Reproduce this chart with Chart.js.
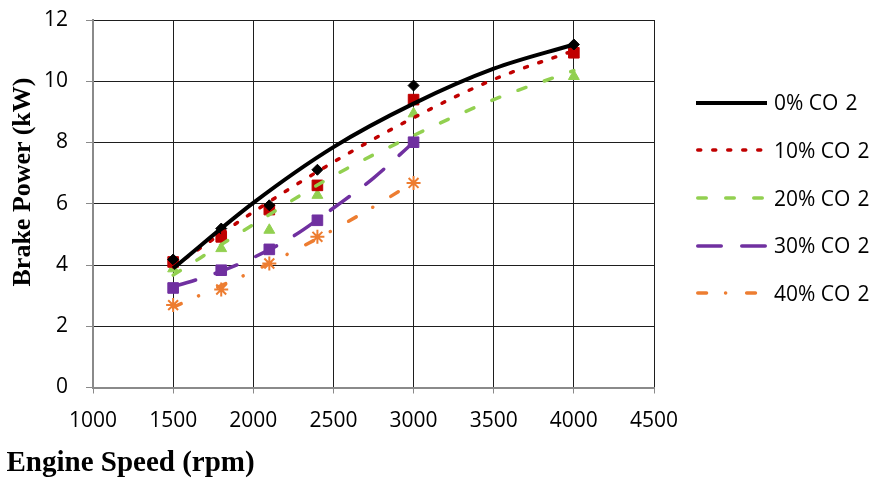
<!DOCTYPE html>
<html>
<head>
<meta charset="utf-8">
<script src="https://cdn.jsdelivr.net/npm/chart.js@4.4.1/dist/chart.umd.min.js"></script>
<style>
  html, body { margin: 0; padding: 0; background: #fff; }
  #wrap { position: relative; width: 879px; height: 479px; overflow: hidden; }
  #chart { position: absolute; left: 0; top: 0; }
  .axis-title { position: absolute; font-family: 'Liberation Serif', 'Times New Roman', serif;
    font-weight: bold; color: #000; white-space: nowrap; }
  #ytitle { font-size: 26px; line-height: 26px; width: 300px; text-align: center;
    left: -127.6px; top: 168.5px; transform: rotate(-90deg); }
  #xtitle { font-size: 29px; line-height: 29px; left: 6.5px; top: 447.4px; }
  .leg-row { position: absolute; left: 696px; height: 30px; display: flex; align-items: center;
    font-family: 'Open Sans', sans-serif; font-size: 21px; line-height: 21px; color: #000; white-space: nowrap; }
  .leg-row svg { margin-right: 7px; }
  .leg-row .sub { margin-left: 7px; }
</style>
</head>
<body>
<div id="wrap">
  <canvas id="chart" width="879" height="479"></canvas>
  <div id="ytitle" class="axis-title">Brake Power (kW)</div>
  <div id="xtitle" class="axis-title">Engine Speed (rpm)</div>
  <div id="legend"></div>
</div>
<script>
'use strict';

/* ---- data ---- */
var rpm      = [1500, 1800, 2100, 2400, 3000, 4000];
var rpmShort = [1500, 1800, 2100, 2400, 3000];

var power0  = [4.18, 5.19, 5.95, 7.11, 9.86, 11.20];
var power10 = [4.10, 4.92, 5.81, 6.60, 9.40, 10.93];
var power20 = [3.88, 4.54, 5.14, 6.28, 8.94, 10.16];
var power30 = [3.25, 3.83, 4.51, 5.46, 8.01];
var power40 = [2.69, 3.20, 4.05, 4.92, 6.68];

// trend lines, read at fixed speeds along each curve
var trendRpm      = [1500, 2000, 2500, 3000, 3500, 4000];
var trendRpmShort = [1500, 1750, 2000, 2250, 2500, 2750, 3000];

var trend0  = [3.89, 6.03, 7.85, 9.27, 10.41, 11.20];
var trend10 = [3.94, 5.73, 7.36, 8.81, 10.06, 11.00];
var trend20 = [3.67, 5.32, 6.91, 8.23, 9.40, 10.35];
var trend30 = [3.29, 3.70, 4.24, 4.94, 5.86, 6.84, 8.01];
var trend40 = [2.62, 3.21, 3.80, 4.45, 5.15, 5.90, 6.70];

var xTicks = [1000, 1500, 2000, 2500, 3000, 3500, 4000, 4500];
var yTicks = [0, 2, 4, 6, 8, 10, 12];

var seriesLabels = ['0% CO 2', '10% CO 2', '20% CO 2', '30% CO 2', '40% CO 2'];

/* ---- styles ---- */
var colors  = ['#000000', '#c00000', '#92d050', '#7030a0', '#ed7d31'];
var dashes  = [[], [3, 12], [8.5, 19.5], [23.5, 20.5], [8.8, 19, 0.1, 21]];
var widths  = [4, 3.5, 3.5, 3.5, 3.5];
var markers = [
  { style: 'rectRot',  r: 5.5, fill: true },
  { style: 'rect',     r: 7.5, fill: true },
  { style: 'triangle', r: 6.3, fill: true },
  { style: 'rect',     r: 7.5, fill: true },
  { style: 'star',     r: 7,   fill: false }
];

function pts(xs, ys) {
  return ys.map(function (y, i) { return { x: xs[i], y: y }; });
}

var pointData = [pts(rpm, power0), pts(rpm, power10), pts(rpm, power20),
                 pts(rpmShort, power30), pts(rpmShort, power40)];
var trendData = [pts(trendRpm, trend0), pts(trendRpm, trend10), pts(trendRpm, trend20),
                 pts(trendRpmShort, trend30), pts(trendRpmShort, trend40)];

var datasets = [];
pointData.forEach(function (d, i) {
  var m = markers[i];
  datasets.push({
    label: seriesLabels[i] + ' points',
    data: d,
    showLine: false,
    pointStyle: m.style,
    pointRadius: m.r,
    pointBackgroundColor: m.fill ? colors[i] : 'rgba(0,0,0,0)',
    pointBorderColor: colors[i],
    pointBorderWidth: m.fill ? 1 : 2,
    order: 2
  });
});
trendData.forEach(function (d, i) {
  datasets.push({
    label: seriesLabels[i],
    data: d,
    showLine: true,
    pointRadius: 0,
    borderColor: colors[i],
    borderWidth: widths[i],
    borderDash: dashes[i],
    borderCapStyle: i === 0 ? 'butt' : 'round',
    cubicInterpolationMode: 'monotone',
    fill: false,
    order: 1
  });
});

var tickFont = { family: "'Open Sans', sans-serif", size: 21 };
var gridColor = '#1e1e1e';
var axisGray  = '#8a8a8a';

new Chart(document.getElementById('chart').getContext('2d'), {
  type: 'scatter',
  data: { datasets: datasets },
  options: {
    responsive: false,
    animation: false,
    events: [],
    layout: { padding: { top: 20, right: 225, bottom: 0, left: 0 } },
    plugins: { legend: { display: false }, tooltip: { enabled: false } },
    scales: {
      x: {
        type: 'linear', min: 1000, max: 4500,
        afterBuildTicks: function (axis) { axis.ticks = xTicks.map(function (v) { return { value: v }; }); },
        afterFit: function (axis) { axis.height = 91.5; },
        grid: { color: gridColor, lineWidth: 1, tickColor: axisGray, tickLength: 6 },
        border: { color: axisGray, width: 2 },
        ticks: { color: '#000', font: tickFont, padding: 14.5, maxRotation: 0, autoSkip: false,
                 callback: function (v) { return String(v); } }
      },
      y: {
        type: 'linear', min: 0, max: 12,
        afterBuildTicks: function (axis) { axis.ticks = yTicks.map(function (v) { return { value: v }; }); },
        afterFit: function (axis) { axis.width = 93; axis.paddingTop = 0; axis.paddingBottom = 0; },
        grid: { color: gridColor, lineWidth: 1, tickColor: axisGray, tickLength: 7 },
        border: { color: axisGray, width: 2 },
        ticks: { color: '#000', font: tickFont, padding: 18,
                 callback: function (v) { return String(v); } }
      }
    }
  }
});

/* ---- legend (html, line samples in svg) ---- */
var legend = document.getElementById('legend');
seriesLabels.forEach(function (lab, i) {
  var row = document.createElement('div');
  row.className = 'leg-row';
  row.style.top = (87.7 + i * 47.65) + 'px';
  var cap = i === 0 ? 'butt' : 'round';
  var x1 = i === 0 ? 0 : 1.75;
  var dash = dashes[i].length ? ' stroke-dasharray="' + dashes[i].join(' ') + '"' : '';
  var parts = lab.split(' ');
  row.innerHTML =
    '<svg width="71" height="10"><line x1="' + x1 + '" y1="5" x2="' + (71 - x1) + '" y2="5" stroke="' +
    colors[i] + '" stroke-width="' + widths[i] + '" stroke-linecap="' + cap + '"' + dash + '/></svg>' +
    '<span>' + parts[0] + ' ' + parts[1] + '</span><span class="sub">' + parts[2] + '</span>';
  legend.appendChild(row);
});
</script>
</body>
</html>
